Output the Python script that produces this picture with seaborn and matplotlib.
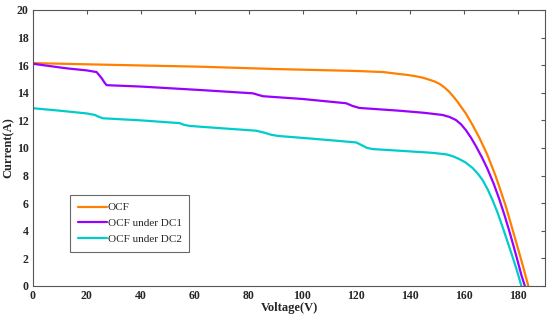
import matplotlib
matplotlib.use("Agg")
import matplotlib.pyplot as plt
import pandas as pd
import seaborn as sns

# Curvas I-V
ocf_v = [0, 30, 62, 90, 120, 130, 135.9, 139, 142, 144.5, 147, 149, 151,
         152.7, 154.4, 156, 157.5, 160.6, 163, 165.6, 168.6, 171.7, 175.4,
         179.1, 181.5, 183.8]
ocf_i = [16.15, 16.02, 15.89, 15.72, 15.58, 15.5, 15.36, 15.29, 15.2, 15.1,
         14.95, 14.82, 14.63, 14.38, 14.08, 13.72, 13.35, 12.5, 11.7, 10.75,
         9.5, 7.95, 5.8, 3.3, 1.65, 0.0]

dc1_v = [0, 12.5, 20, 23.6, 25.5, 26.5, 27.3, 40, 62, 81.6, 83.5, 85.3,
         100, 116.2, 118.5, 121.1, 135.9, 145, 152, 154.5, 156.9, 158.8,
         160.6, 162.5, 164.3, 166.5, 168.6, 171, 173, 175, 176.7, 178.3,
         179.7, 181.2, 182.5]
dc1_i = [16.1, 15.77, 15.62, 15.5, 15.05, 14.75, 14.55, 14.45, 14.2, 13.96,
         13.85, 13.75, 13.55, 13.24, 13.05, 12.9, 12.7, 12.55, 12.39, 12.25,
         12.03, 11.72, 11.3, 10.75, 10.15, 9.35, 8.5, 7.38, 6.3, 5.1, 4.0,
         2.9, 1.9, 0.8, 0.0]

dc2_v = [0, 10, 20, 23, 24.5, 26, 40, 54.4, 56, 58, 62, 82.8, 86, 88.5, 91,
         105, 119.9, 122, 124, 126, 135.9, 148, 153.2, 155.5, 158.1, 160.5,
         163.1, 165, 166.8, 168.7, 170.5, 172.4, 174.2, 176, 177.9, 179.6,
         181.2]
dc2_i = [12.88, 12.7, 12.5, 12.39, 12.25, 12.15, 12.0, 11.8, 11.68, 11.6,
         11.54, 11.25, 11.1, 10.95, 10.87, 10.65, 10.4, 10.2, 10.0, 9.92,
         9.8, 9.65, 9.54, 9.42, 9.2, 8.95, 8.55, 8.15, 7.68, 7.0, 6.23, 5.3,
         4.3, 3.25, 2.13, 1.1, 0.0]

series = ["OCF", "OCF under DC1", "OCF under DC2"]
colores = {"OCF": "#FF8000", "OCF under DC1": "#9900FF",
           "OCF under DC2": "#00CCCC"}

df = pd.concat([
    pd.DataFrame({"Voltage": ocf_v, "Current": ocf_i, "serie": series[0]}),
    pd.DataFrame({"Voltage": dc1_v, "Current": dc1_i, "serie": series[1]}),
    pd.DataFrame({"Voltage": dc2_v, "Current": dc2_i, "serie": series[2]}),
], ignore_index=True)

sns.set_style("white")
plt.rcParams["font.family"] = ["Liberation Serif", "DejaVu Serif"]

fig = plt.figure(figsize=(5.5, 3.22), dpi=100)
ax = fig.add_axes([0.06, 0.112, 0.931, 0.857])

sns.lineplot(data=df, x="Voltage", y="Current", hue="serie",
             hue_order=series, palette=colores, sort=False,
             estimator=None, linewidth=1.6, ax=ax)

ax.set_xlim(0, 190)
ax.set_ylim(0, 20)
ax.set_xticks(range(0, 181, 20))
ax.set_yticks(range(0, 21, 2))
ax.set_xlabel("Voltage(V)", fontsize=9, fontweight="bold", labelpad=0)
ax.set_ylabel("Current(A)", fontsize=9, fontweight="bold", labelpad=2)
ax.tick_params(direction="in", length=3, width=0.8, top=True, right=True,
               labeltop=False, labelright=False, labelsize=8.5,
               color="#555555", pad=3)
for lbl in ax.get_xticklabels() + ax.get_yticklabels():
    lbl.set_fontweight("bold")
for s in ax.spines.values():
    s.set_visible(True)
    s.set_color("#555555")
    s.set_linewidth(0.8)

leg = ax.legend(loc="upper left", bbox_to_anchor=(0.072, 0.33),
                fontsize=8, frameon=True, fancybox=False,
                handlelength=2.6, handletextpad=0.1, borderpad=0.7,
                labelspacing=0.55, borderaxespad=0)
leg.get_frame().set_edgecolor("#444444")
leg.get_frame().set_linewidth(0.8)

fig.savefig("out.png", dpi=100)
